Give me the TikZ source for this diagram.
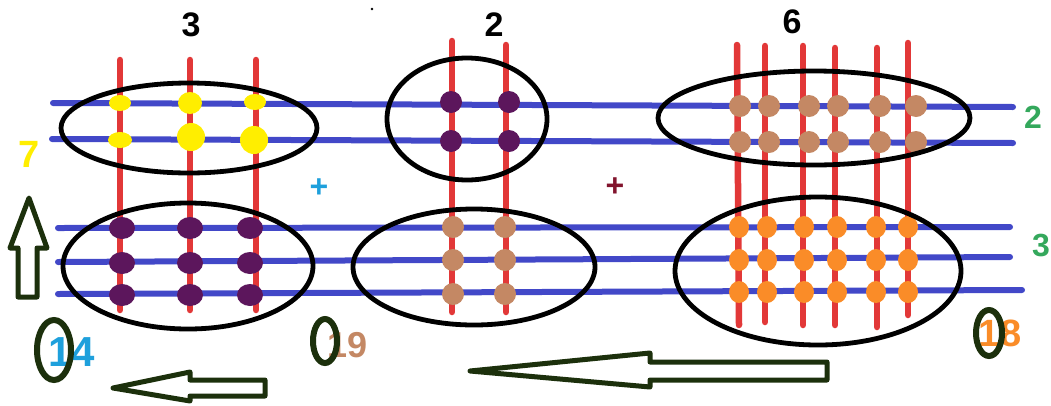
\documentclass[tikz,border=0pt]{standalone}
\usepackage{fontspec}
\setmainfont{Liberation Sans}
\definecolor{wire}{RGB}{66,72,200}
\definecolor{rod}{RGB}{226,56,56}
\definecolor{dyel}{RGB}{255,238,0}
\definecolor{dpur}{RGB}{92,22,92}
\definecolor{dbrn}{RGB}{196,136,100}
\definecolor{dorg}{RGB}{250,140,40}
\definecolor{agreen}{RGB}{28,48,12}
\definecolor{lgreen}{RGB}{52,168,92}
\definecolor{lcyan}{RGB}{30,160,220}
\definecolor{dred}{RGB}{130,20,45}
\begin{document}
\begin{tikzpicture}[x=1pt,y=-1pt,
  hline/.style={wire,line width=6pt,line cap=round},
  vline/.style={rod,line width=6.5pt,line cap=round},
  ring/.style={black,line width=4.8pt},
  hollow/.style={agreen,line width=5pt,line join=round},
  oval/.style={agreen,line width=6pt},
  lab/.style={font=\bfseries\fontsize{34}{34}\selectfont,inner sep=0pt}]
\useasboundingbox (0,0) rectangle (1051,405);
\fill[white] (0,0) rectangle (1051,405);
% blue horizontal lines
\draw[hline] (53,103) -- (1013,107);
\draw[hline] (52,139) -- (1013,143);
\draw[hline] (58,228) -- (1010,227);
\draw[hline] (58,262) -- (1010,257);
\draw[hline] (58,294) -- (1022,290);
% red vertical lines
\foreach \x in {120,190,256} \draw[vline] (\x,60) -- (\x,310);
\draw[vline] (452,41) -- (452,312);
\draw[vline] (506,45) -- (506,312);
\draw[vline] (737,45) -- (739,325);
\draw[vline] (765,46) -- (765,322);
\draw[vline] (803,46) -- (803,325);
\draw[vline] (835,48) -- (835,325);
\draw[vline] (877,48) -- (877,327);
\draw[vline] (908,43) -- (908,315);
% yellow dots
\fill[dyel] (120,103) ellipse (11 and 8);
\fill[dyel] (190,103) ellipse (12 and 11);
\fill[dyel] (255,102) ellipse (11 and 8);
\fill[dyel] (120,140) ellipse (12 and 8);
\fill[dyel] (191,137) ellipse (14 and 14);
\fill[dyel] (254,140) ellipse (14 and 14);
% purple dots left
\foreach \x in {122,190,250} \foreach \y in {228,263,295} \fill[dpur] (\x,\y) ellipse (13 and 11);
% middle
\foreach \x in {451,509} \foreach \y in {102,141} \fill[dpur] (\x,\y) ellipse (11 and 11);
\foreach \x in {453,505} \foreach \y in {227,260,294} \fill[dbrn] (\x,\y) circle (11);
% right
\foreach \x in {740,769,809,838,880,916} \foreach \y in {106,142} \fill[dbrn] (\x,\y) circle (11);
\foreach \x in {739,767,804,837,876,908} \foreach \y in {227,260,292} \fill[dorg] (\x,\y) ellipse (10 and 11);
% ellipses
\draw[ring] (189,128) ellipse (128 and 45);
\draw[ring] (188,266) ellipse (125 and 63);
\draw[ring] (467,119) ellipse (80 and 61);
\draw[ring] (474,267) ellipse (121 and 58);
\draw[ring] (814,118) ellipse (156 and 47);
\draw[ring] (818,271) ellipse (143 and 74);
% labels
\node[lab] (t3) at (191,25) {3};
\node[lab] (t2) at (494,25) {2};
\node[lab] (t6) at (792,22) {6};
\fill (372,9) circle (1.3);
\node[lab,dyel,font=\bfseries\fontsize{38}{38}\selectfont] (l7) at (29,154) {7};
\node[lab,lcyan,font=\bfseries\fontsize{32}{32}\selectfont] (p1) at (319,188) {+};
\node[lab,dred,font=\bfseries\fontsize{32}{32}\selectfont] (p2) at (615,187) {+};
\node[lab,lgreen,font=\bfseries\fontsize{32}{32}\selectfont] (g2) at (1033,117) {2};
\node[lab,lgreen,font=\bfseries\fontsize{32}{32}\selectfont] (g3) at (1041,246) {3};
\node[lab,lcyan,font=\bfseries\fontsize{42}{42}\selectfont] (n14) at (72,352) {14};
\node[lab,dbrn,font=\bfseries\fontsize{36}{36}\selectfont] (n19) at (348,345) {19};
\node[lab,dorg,font=\bfseries\fontsize{38}{38}\selectfont] (n18) at (1000,333) {18};
\draw[oval] (54,350) ellipse (17 and 30);
\draw[oval] (325,341) ellipse (12 and 22);
\draw[oval] (989,333) ellipse (13 and 23);
% hollow arrows
\draw[hollow] (29,198) -- (47,248) -- (37,248) -- (37,297) -- (18,297) -- (18,248) -- (10,248) -- cycle;
\draw[hollow] (113,388) -- (190,372) -- (190,380) -- (265,380) -- (265,396) -- (190,396) -- (190,401) -- cycle;
\draw[hollow] (470,371) -- (650,353) -- (650,362) -- (827,362) -- (827,380) -- (650,380) -- (650,387) -- cycle;
\end{tikzpicture}
\end{document}
